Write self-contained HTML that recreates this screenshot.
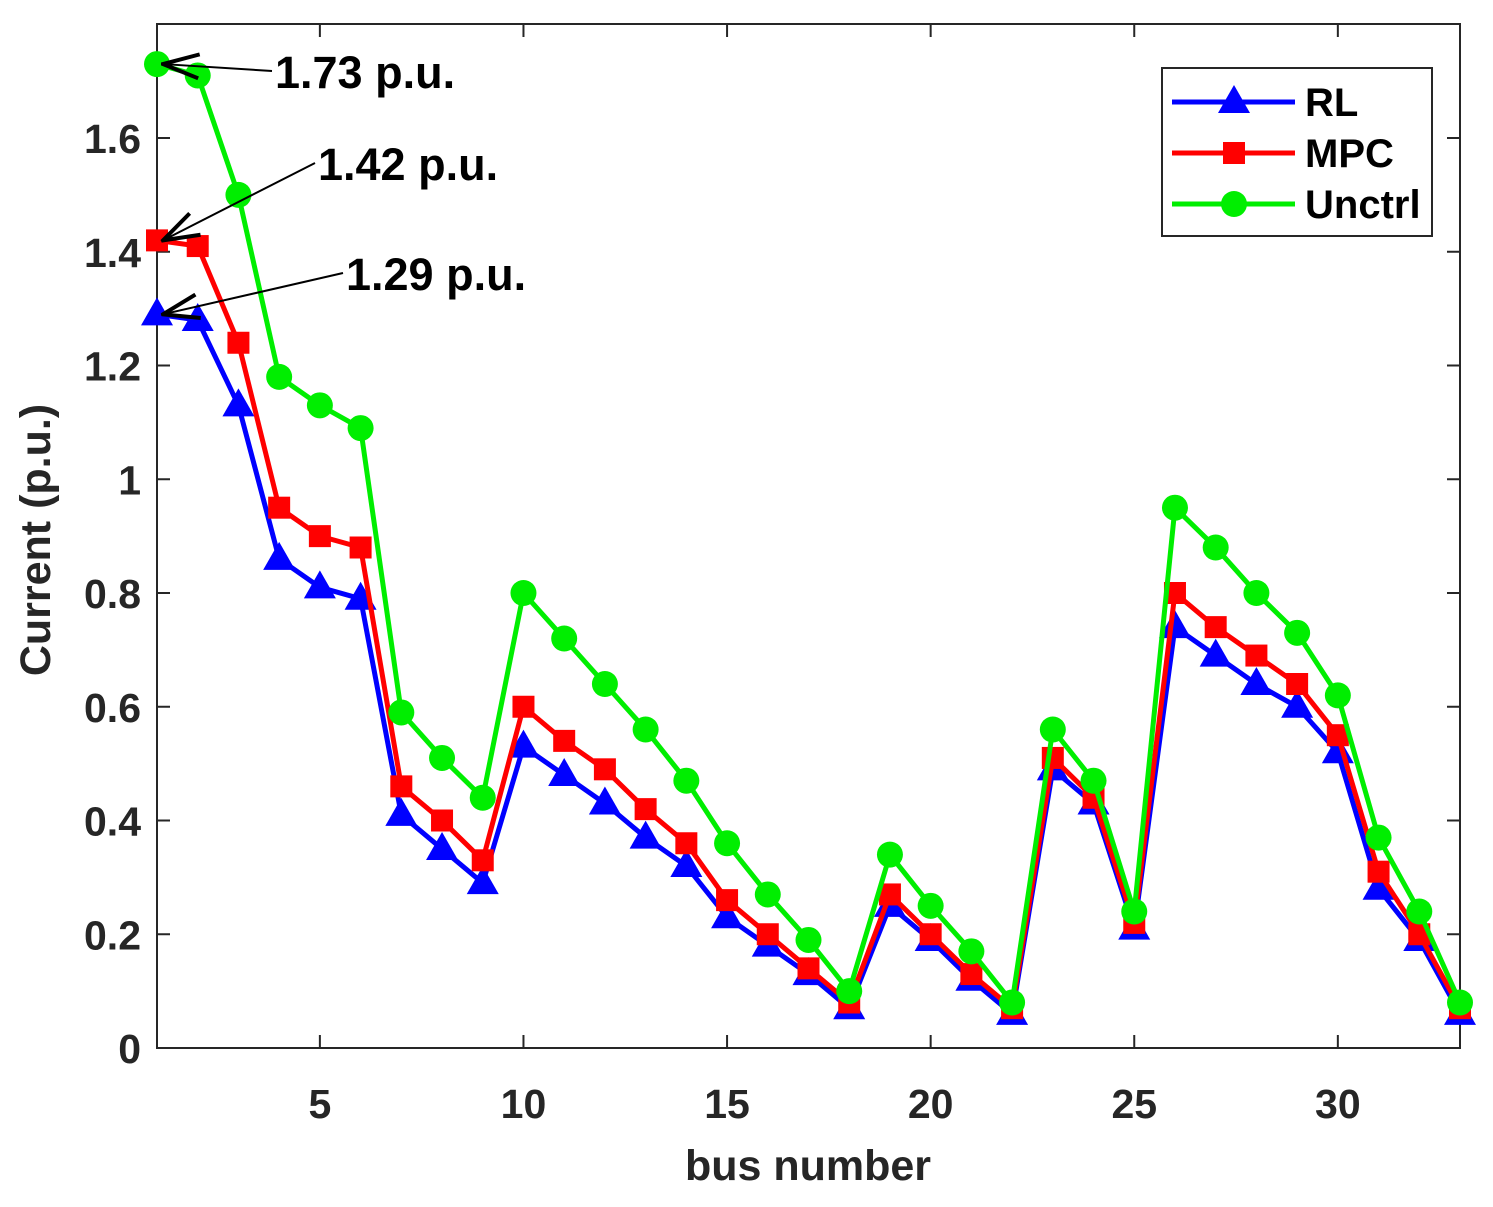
<!DOCTYPE html>
<html><head><meta charset="utf-8"><style>
html,body{margin:0;padding:0;background:#fff;}
svg text{font-family:"Liberation Sans",Arial,sans-serif;font-weight:bold;fill:#262626;}
</style></head><body>
<svg id="chart" width="1493" height="1202" xmlns="http://www.w3.org/2000/svg">
<defs>
<marker id="ah" viewBox="0 0 20 14" refX="19" refY="7" markerWidth="40" markerHeight="28" markerUnits="userSpaceOnUse" orient="auto">
<path d="M1,1 L19,7 L1,13" fill="none" stroke="#000" stroke-width="2"/>
</marker>
</defs>
<g id="plot"></g>
</svg>
<script>
const buses = Array.from({length:33},(_, i)=>i+1);
const rlValues = [1.29,1.28,1.13,0.86,0.81,0.79,0.41,0.35,0.29,0.53,0.48,0.43,0.37,0.32,0.23,0.18,0.13,0.07,0.25,0.19,0.12,0.06,0.49,0.43,0.21,0.74,0.69,0.64,0.60,0.52,0.28,0.19,0.06];
const mpcValues = [1.42,1.41,1.24,0.95,0.90,0.88,0.46,0.40,0.33,0.60,0.54,0.49,0.42,0.36,0.26,0.20,0.14,0.08,0.27,0.20,0.13,0.07,0.51,0.44,0.22,0.80,0.74,0.69,0.64,0.55,0.31,0.20,0.07];
const unctrlValues = [1.73,1.71,1.50,1.18,1.13,1.09,0.59,0.51,0.44,0.80,0.72,0.64,0.56,0.47,0.36,0.27,0.19,0.10,0.34,0.25,0.17,0.08,0.56,0.47,0.24,0.95,0.88,0.80,0.73,0.62,0.37,0.24,0.08];
const xTicks = [5,10,15,20,25,30];
const yTicks = [0,0.2,0.4,0.6,0.8,1,1.2,1.4,1.6];
const yTickLabels = ["0","0.2","0.4","0.6","0.8","1","1.2","1.4","1.6"];
const annotations = [{bus:1,value:1.73,label:"1.73 p.u."},{bus:1,value:1.42,label:"1.42 p.u."},{bus:1,value:1.29,label:"1.29 p.u."}];

const L=157,R=1460,T=24,B=1048;
const xs=b=>L+(b-1)*(R-L)/32;
const ys=v=>B-v*(B-138)/1.6;
const NS="http://www.w3.org/2000/svg";
const g=document.getElementById('plot');
function mk(tag,attrs,parent){const e=document.createElementNS(NS,tag);for(const k in attrs)e.setAttribute(k,attrs[k]);(parent||g).appendChild(e);return e;}

let e=mk('rect',{x:L,y:T,width:R-L,height:B-T,fill:'#fff',stroke:'#262626','stroke-width':2});


xTicks.forEach(t=>{
  mk('line',{x1:xs(t),x2:xs(t),y1:B,y2:B-13,stroke:'#262626','stroke-width':2});
  mk('line',{x1:xs(t),x2:xs(t),y1:T,y2:T+13,stroke:'#262626','stroke-width':2});
  const tx=mk('text',{x:xs(t),y:1118,'text-anchor':'middle','font-size':41});tx.textContent=t;
  
  
});
yTicks.forEach((t,i)=>{
  mk('line',{x1:L,x2:L+13,y1:ys(t),y2:ys(t),stroke:'#262626','stroke-width':2});
  mk('line',{x1:R,x2:R-13,y1:ys(t),y2:ys(t),stroke:'#262626','stroke-width':2});
  const tx=mk('text',{x:141,y:ys(t)+15,'text-anchor':'end','font-size':41});tx.textContent=yTickLabels[i];
  
  
});
let xl=mk('text',{x:808,y:1180,'text-anchor':'middle','font-size':43});xl.textContent='bus number';


let yl=mk('text',{x:0,y:0,'text-anchor':'middle','font-size':43,transform:'translate(50,540) rotate(-90)'});yl.textContent='Current (p.u.)';



function marker(type,x,y,color,parent){
  if(type==='tri') return mk('polygon',{points:`${x},${y-17} ${x-16},${y+11} ${x+16},${y+11}`,fill:color},parent);
  if(type==='sq') return mk('rect',{x:x-11,y:y-11,width:22,height:22,fill:color},parent);
  return mk('circle',{cx:x,cy:y,r:13,fill:color},parent);
}
function series(vals,color,type,name){
  const sg=mk('g',{});
  
  
  mk('polyline',{points:vals.map((v,i)=>xs(buses[i])+','+ys(v)).join(' '),fill:'none',stroke:color,'stroke-width':5},sg);
  vals.forEach((v,i)=>{const m=marker(type,xs(buses[i]),ys(v),color,sg);
    
    });
}
series(rlValues,'#0000ff','tri','rl');
series(mpcValues,'#ff0000','sq','mpc');
series(unctrlValues,'#00ee00','circ','unctrl');

const textPos=[[275,88],[318,180],[346,290]];
annotations.forEach((a,i)=>{
  const [tx,ty]=textPos[i];
  const ln=mk('line',{x1:tx-3,y1:ty-17,x2:xs(a.bus)+6,y2:ys(a.value),stroke:'#000','stroke-width':2,'marker-end':'url(#ah)'});
  
  
  const t=mk('text',{x:tx,y:ty,'font-size':45,style:'fill:#000'});t.textContent=a.label;
  
  
});

const lg=mk('g',{});


mk('rect',{x:1162,y:68,width:270,height:168,fill:'#fff',stroke:'#262626','stroke-width':2},lg);
[['RL','#0000ff','tri',102],['MPC','#ff0000','sq',153],['Unctrl','#00ee00','circ',204]].forEach(([n,c,t,y])=>{
  const eg=mk('g',{},lg);
  
  
  mk('line',{x1:1172,x2:1295,y1:y,y2:y,stroke:c,'stroke-width':5},eg);
  marker(t,1234,y,c,eg);
  const tx=mk('text',{x:1305,y:y+14,'font-size':40,style:'fill:#000'},eg);tx.textContent=n;
});
</script>
</body></html>
